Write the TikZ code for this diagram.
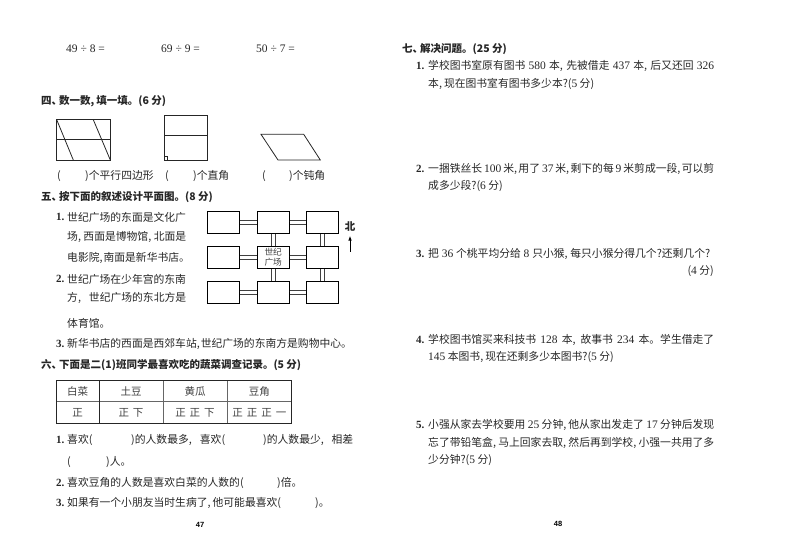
\documentclass[tikz,border=0pt]{standalone}
\usepackage{fontspec}
\setmainfont{Noto Sans CJK SC}
\newfontfamily\latn{Liberation Serif}
\newfontfamily\pagefont{Liberation Sans}
\usepackage{tikz}
\usetikzlibrary{positioning,calc,arrows.meta}
\newcommand{\nm}[1]{{\latn\fontsize{11.5}{12}\selectfont #1}}
\newcommand{\fitln}[2]{\makebox[#1pt][s]{#2}}
\newcommand{\cm}{,\hskip 2pt plus 2pt minus 1pt}
\newcommand{\pen}{、\kern-3pt}
\tikzset{
  txt/.style={anchor=west,inner sep=0pt,font=\fontsize{10.8}{12}\selectfont,text=black!85},
  head/.style={txt,font=\fontsize{10.5}{12}\selectfont\bfseries},
  numb/.style={txt,font=\latn\bfseries\fontsize{11}{12}\selectfont},
  cell/.style={anchor=center,inner sep=0pt,font=\fontsize{10.5}{12}\selectfont,text=black!75},
  plot box/.style={draw,line width=0.9pt,inner sep=0pt,minimum width=32pt,minimum height=22.3pt},
  road/.style={draw=black!75,double=white,line width=0.8pt,double distance=3.4pt},
  fig/.style={line width=0.8pt,draw=black!85}
}
\begin{document}
\begin{tikzpicture}[x=1pt,y=-1pt]
    \useasboundingbox (0,0) rectangle (800,551);
    % top row of sums
    \node[txt] (sumA) at (66,49) {\nm{49 ÷ 8 =}};
    \node[txt] (sumB) at (161,49) {\nm{69 ÷ 9 =}};
    \node[txt] (sumC) at (256,49) {\nm{50 ÷ 7 =}};

    % part four
    \node[head] (headFour) at (41,100.7) {四\pen 数一数\cm 填一填。(6 分)};
    \draw[fig] (56.7,119.7) rectangle (110.3,160);
    \draw[fig] (56.7,139.3) -- (110.3,139.3);
    \draw[fig] (56.7,119.7) -- (73.3,160);
    \draw[fig] (93.3,119.7) -- (110.3,160);
    \draw[fig] (164,115) rectangle (207.3,160);
    \draw[fig] (164,135.7) -- (207.3,135.7);
    \draw[fig,line width=0.5pt] (164,156.5) -- (167.5,156.5) -- (167.5,160);
    \draw[fig] (261,134.3) -- (303.7,134.3) -- (320.3,160) -- (278,160) -- cycle;
    \node[txt] (parA) at (57,176) {(};
    \node[txt] (parB) at (85,176) {)个平行四边形};
    \node[txt] (angA) at (165,176) {(};
    \node[txt] (angB) at (193,176) {)个直角};
    \node[txt] (obtA) at (262,176) {(};
    \node[txt] (obtB) at (289,176) {)个钝角};

    % part five
    \node[head] (headFive) at (41,197) {五\pen 按下面的叙述设计平面图。(8 分)};
    \node[numb] (fiveNumA) at (56,217) {1.};
    \node[txt] (fiveA) at (67,217) {\fitln{119}{世纪广场的东面是文化广}};
    \node[txt] (fiveB) at (67,237) {\fitln{119}{场\cm 西面是博物馆\cm 北面是}};
    \node[txt] (fiveC) at (67,258) {\fitln{119}{电影院\cm 南面是新华书店。}};
    \node[numb] (fiveNumB) at (56,279) {2.};
    \node[txt] (fiveD) at (67,279) {\fitln{119}{世纪广场在少年宫的东南}};
    \node[txt] (fiveE) at (67,298) {\fitln{119}{方\cm 世纪广场的东北方是}};
    \node[txt] (fiveF) at (67,323) {体育馆。};
    \node[numb] (fiveNumC) at (56,344) {3.};
    \node[txt] (fiveG) at (67,344) {\fitln{277}{新华书店的西面是西郊车站\cm 世纪广场的东南方是购物中心。}};

    % street plan
    \foreach \col/\xx in {1/223.5,2/273.2,3/322.5}
      \foreach \row/\yy in {1/222.2,2/257.3,3/292.2}
        \node[plot box] (block\col\row) at (\xx,\yy) {};
    \foreach \row in {1,2,3}
      \foreach \a/\b in {1/2,2/3}
        \draw[road] (block\a\row) -- (block\b\row);
    \foreach \col in {2,3}
      \foreach \a/\b in {1/2,2/3}
        \draw[road] (block\col\a) -- (block\col\b);
    \node[cell,font=\fontsize{8.7}{10}\selectfont] (plazaA) at (273.2,252.5) {世纪};
    \node[cell,font=\fontsize{8.7}{10}\selectfont] (plazaB) at (273.2,262.3) {广场};
    \node[head,anchor=center] (north) at (350,227) {北};
    \coordinate (northEnd) at (350,251.7);
    \coordinate (northTip) at (350,235.5);
    \draw[-{Latex[length=5pt,width=3.5pt]},line width=1pt] (northEnd) -- (northTip);

    % part six
    \node[head] (headSix) at (41,364.7) {六\pen 下面是二(1)班同学最喜欢吃的蔬菜调查记录。(5 分)};
    \draw[line width=0.6pt,draw=black!60] (56,401.7) -- (291.7,401.7);
    \draw[line width=0.6pt,draw=black!60] (163,380.3) -- (163,423);
    \draw[line width=0.6pt,draw=black!60] (227,380.3) -- (227,423);
    \draw[line width=0.9pt,draw=black!85] (99.3,380.3) -- (99.3,423);
    \draw[line width=0.9pt,draw=black!85] (56,380.3) rectangle (291.7,423);
    \node[cell] (vegA) at (77.7,391.5) {白菜};
    \node[cell] (vegB) at (131,391.5) {土豆};
    \node[cell] (vegC) at (195,391.5) {黄瓜};
    \node[cell] (vegD) at (259.3,391.5) {豆角};
    \node[cell] (markA) at (77.7,412.5) {正};
    \node[cell] (markB) at (131,412.5) {正\hspace{4pt}下};
    \node[cell] (markC) at (195,412.5) {正\hspace{4pt}正\hspace{4pt}下};
    \node[cell] (markD) at (259.3,412.5) {正\hspace{4pt}正\hspace{4pt}正\hspace{4pt}一};
    \node[numb] (sixNumA) at (56,440) {1.};
    \node[txt] (sixA) at (67,440) {喜欢(};
    \node[txt] (sixB) at (131,440) {\fitln{94}{)的人数最多\cm 喜欢(}};
    \node[txt] (sixC) at (263,440) {\fitln{90}{)的人数最少\cm 相差}};
    \node[txt] (sixD) at (67,461.7) {(};
    \node[txt] (sixE) at (106,461.7) {)人。};
    \node[numb] (sixNumB) at (56,482.7) {2.};
    \node[txt] (sixF) at (67,482.7) {喜欢豆角的人数是喜欢白菜的人数的(};
    \node[txt] (sixG) at (277,482.7) {)倍。};
    \node[numb] (sixNumC) at (56,503.3) {3.};
    \node[txt] (sixH) at (67,503.3) {如果有一个小朋友当时生病了\cm 他可能最喜欢(};
    \node[txt] (sixI) at (315,503.3) {)。};
    \node[anchor=center,inner sep=0pt,font=\pagefont\bfseries\fontsize{7.5}{9}\selectfont] (pageL) at (200,525) {47};

    % part seven
    \node[head] (headSeven) at (402,49.3) {七\pen 解决问题。(25 分)};
    \node[numb] (sevNumA) at (416,66) {1.};
    \node[txt] (sevA) at (428,66) {\fitln{286}{学校图书室原有图书 \nm{580} 本\cm 先被借走 \nm{437} 本\cm 后又还回 \nm{326}}};
    \node[txt] (sevB) at (428,83.7) {本\cm 现在图书室有图书多少本?(\nm{5} 分)};
    \node[numb] (sevNumB) at (416,169) {2.};
    \node[txt] (sevC) at (428,169) {\fitln{286}{一捆铁丝长 \nm{100} 米\cm 用了 \nm{37} 米\cm 剩下的每 \nm{9} 米剪成一段\cm 可以剪}};
    \node[txt] (sevD) at (428,186) {成多少段?(\nm{6} 分)};
    \node[numb] (sevNumC) at (416,254.3) {3.};
    \node[txt] (sevE) at (428,254.3) {\fitln{282}{把 \nm{36} 个桃平均分给 \nm{8} 只小猴\cm 每只小猴分得几个?还剩几个?}};
    \node[txt,anchor=east] (sevF) at (714,271) {(\nm{4} 分)};
    \node[numb] (sevNumD) at (416,339.7) {4.};
    \node[txt] (sevG) at (428,339.7) {\fitln{286}{学校图书馆买来科技书 \nm{128} 本\cm 故事书 \nm{234} 本。学生借走了}};
    \node[txt] (sevH) at (428,357) {\nm{145} 本图书\cm 现在还剩多少本图书?(\nm{5} 分)};
    \node[numb] (sevNumE) at (416,425) {5.};
    \node[txt] (sevI) at (428,425) {\fitln{286}{小强从家去学校要用 \nm{25} 分钟\cm 他从家出发走了 \nm{17} 分钟后发现}};
    \node[txt] (sevJ) at (428,443) {\fitln{286}{忘了带铅笔盒\cm 马上回家去取\cm 然后再到学校\cm 小强一共用了多}};
    \node[txt] (sevK) at (428,460) {少分钟?(\nm{5} 分)};
    \node[anchor=center,inner sep=0pt,font=\pagefont\bfseries\fontsize{7.5}{9}\selectfont] (pageR) at (558,524) {48};
\end{tikzpicture}
\end{document}
